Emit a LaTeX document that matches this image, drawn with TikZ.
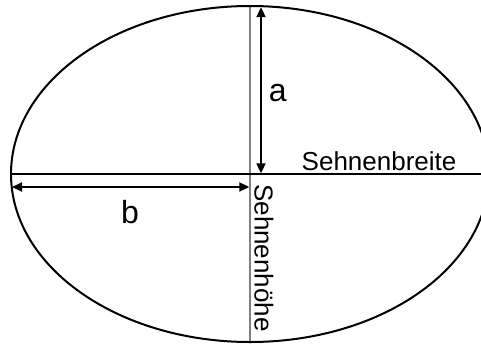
\documentclass[tikz,border=0pt]{standalone}
\usepackage{fontspec}
\setmainfont{Liberation Sans}
\usetikzlibrary{arrows.meta}
\begin{document}
\begin{tikzpicture}[x=1pt,y=-1pt,
  outline/.style={line width=2pt,black},
  chord/.style={line width=1.3pt,black},
  axisline/.style={line width=1.3pt,gray},
  dimarrow/.style={line width=2pt,black,{Triangle[length=10pt,width=9pt]}-{Triangle[length=10pt,width=9pt]}},
  big/.style={font=\fontsize{32}{36}\selectfont,inner sep=0pt},
  lbl/.style={font=\fontsize{26}{30}\selectfont,inner sep=0pt}]
\useasboundingbox (0,0) rectangle (481,343);
\clip (0,0) rectangle (481,343);
% coordinates
\coordinate (C) at (250,174);
\coordinate (L) at (11,174);
\coordinate (R) at (489,174);
\coordinate (T) at (250,6);
\coordinate (B) at (250,342);
\coordinate (aT) at (261,7.2);
\coordinate (aB) at (261,173.3);
\coordinate (bL) at (12,187);
\coordinate (bR) at (249.3,187);
% shapes
\draw[axisline] (T) -- (B);
\draw[chord] (L) -- (R);
\draw[outline] (C) ellipse [x radius=239, y radius=168];
\draw[dimarrow] (aT) -- (aB);
\draw[dimarrow] (bL) -- (bR);
% labels
\node[big,anchor=base west] (la) at (268.7,101.5) {a};
\node[big,anchor=base west] (lb) at (121,223) {b};
\node[lbl,anchor=base west] (sb) at (301.5,170.5) {Sehnenbreite};
\node[lbl,anchor=base west,rotate=-90] (sh) at (254.5,184) {Sehnenhöhe};
\end{tikzpicture}
\end{document}
